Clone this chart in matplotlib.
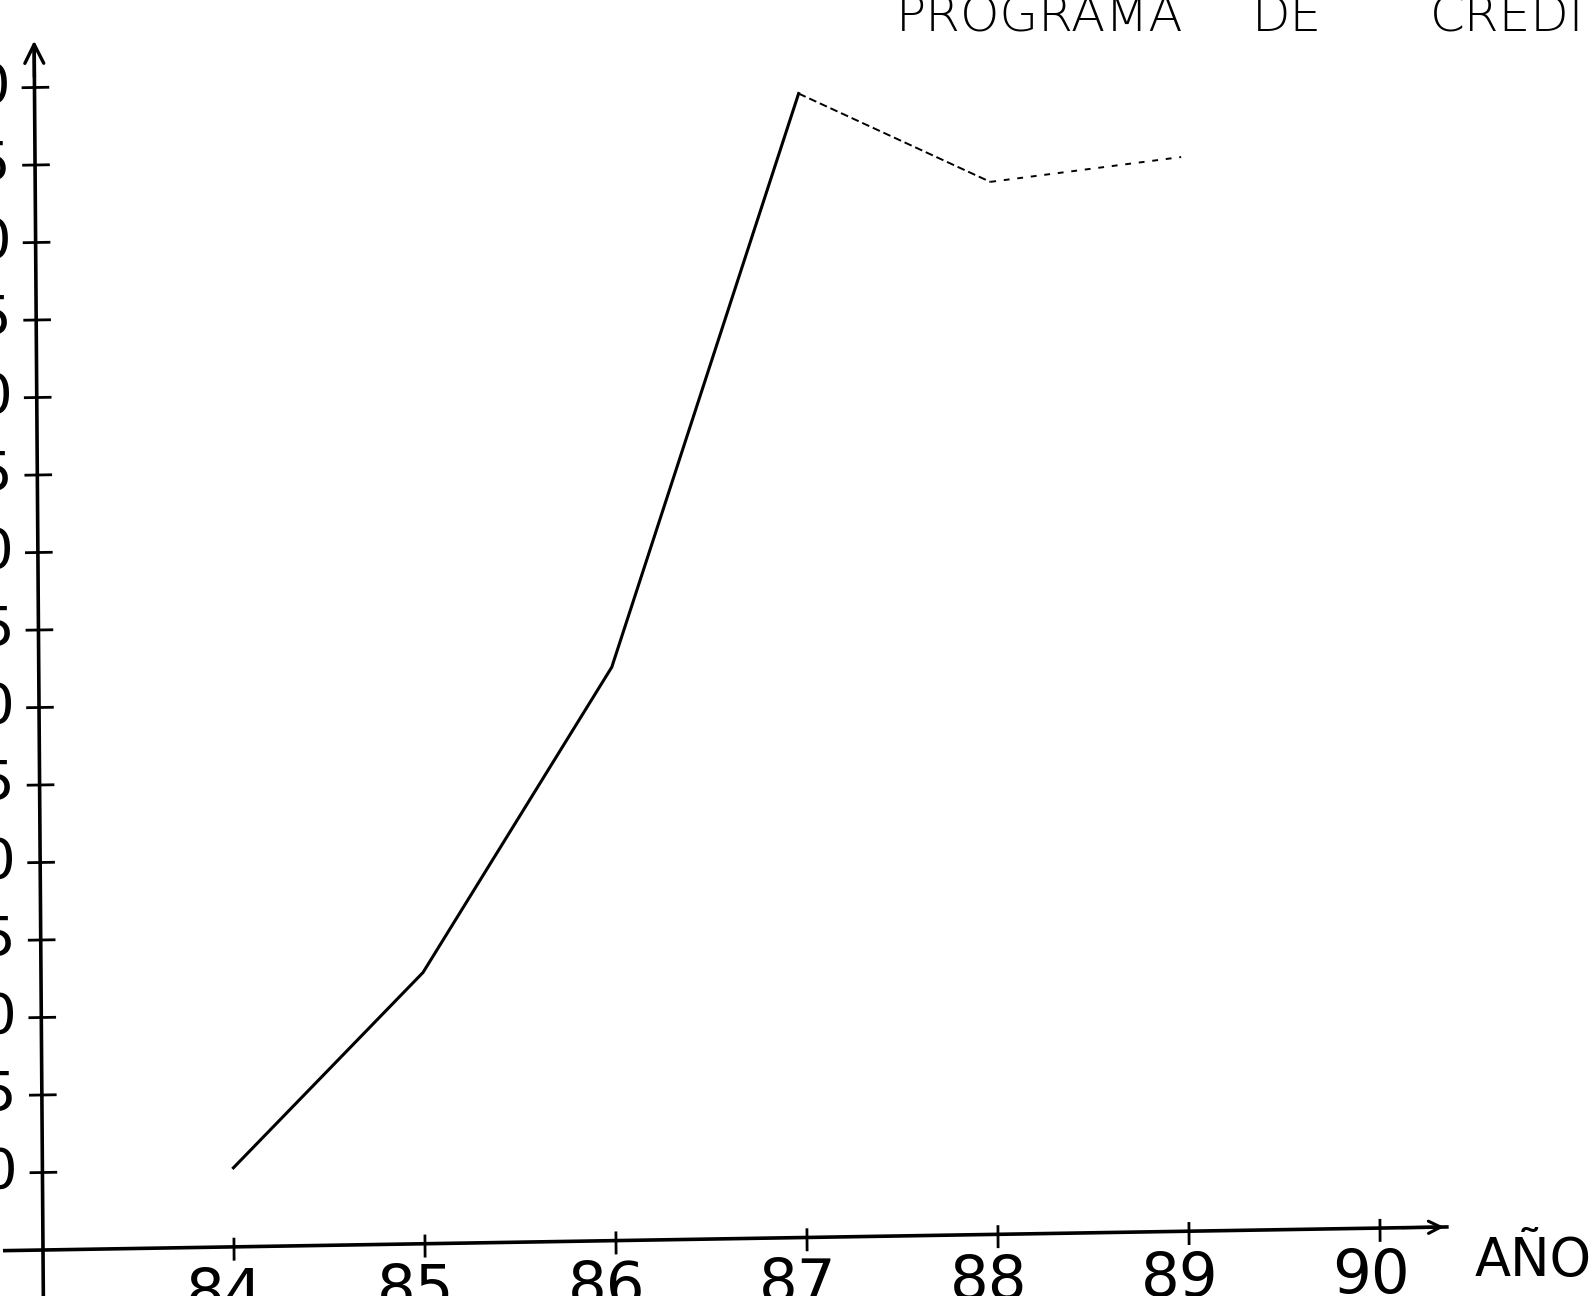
import matplotlib
matplotlib.use("Agg")
import matplotlib.pyplot as plt
from matplotlib.transforms import Affine2D

# datos (valores aproximados)
anios = [84, 85, 86, 87, 88, 89]
valores = [10.1, 22.5, 42.0, 78.8, 72.9, 74.3]
x_ticks = [84, 85, 86, 87, 88, 89, 90]
x_labels = ["84", "85", "86", "87", "88", "89", "90"]
y_ticks = list(range(10, 85, 5))
y_labels = [str(v) for v in y_ticks]

FUENTE = ["DejaVu Sans"]

W, H, DPI = 1596, 1296, 100
fig = plt.figure(figsize=(W / DPI, H / DPI), dpi=DPI)
ox, oy = 43, 46          # origen de los ejes en pixeles
px_x, px_y = 191, 15.5   # pixeles por anio / por unidad
x0, y0 = 83, 5

ax = fig.add_axes([ox / W, oy / H, 1 - ox / W, 1 - oy / H])
ax.set_xlim(x0, x0 + (W - ox) / px_x)
ax.set_ylim(y0, y0 + (H - oy) / px_y)
ax.axis("off")

# el dibujo original esta un poco torcido
skew = Affine2D().translate(-ox, -oy).skew_deg(-0.42, 0.94).translate(ox, oy)
tr = ax.transData + skew

kw = dict(color="black", transform=tr, clip_on=False)

# ejes
ax.plot([x0 - 0.2, x0 + 7.35], [y0, y0], lw=2.6, **kw)
ax.plot([x0, x0], [y0 - 3.0, y0 + 77.5], lw=2.6, **kw)
ax.annotate("", xy=(x0 + 7.35, y0), xytext=(x0 + 7.1, y0), xycoords=tr,
            arrowprops=dict(arrowstyle="->", lw=2.2, color="black",
                            mutation_scale=22))
ax.annotate("", xy=(x0, y0 + 78.2), xytext=(x0, y0 + 75.5), xycoords=tr,
            arrowprops=dict(arrowstyle="->", lw=2.4, color="black",
                            mutation_scale=34))

# marcas y etiquetas del eje x
for t, lab in zip(x_ticks, x_labels):
    ax.plot([t, t], [y0 - 0.8, y0 + 0.5], lw=2.0, **kw)
    ax.text(t - 0.05, y0 - 1.2, lab, fontsize=44, ha="center", va="top",
            family=FUENTE, **kw)

# marcas y etiquetas del eje y (recortadas por el borde izquierdo)
for v, lab in zip(y_ticks, y_labels):
    ax.plot([x0 - 0.06, x0 + 0.07], [v, v], lw=2.0, **kw)
    ax.text(x0 - 0.125, v, lab, fontsize=40, ha="right", va="center",
            family=FUENTE, **kw)

ax.text(x0 + 7.8, y0 - 2.3, "AÑO", fontsize=38, ha="center", va="center",
        family=FUENTE, **kw)

# curva
ax.plot(anios[:4], valores[:4], lw=2.2, solid_joinstyle="miter", **kw)
ax.plot(anios[3:5], valores[3:5], lw=1.4, ls=(0, (4, 2)), **kw)
ax.plot(anios[4:], valores[4:], lw=1.4, ls=(0, (3, 4)), **kw)

# titulo cortado por el borde superior
for palabra, xp in [("PROGRAMA", 896), ("DE", 1252), ("CREDITO", 1430)]:
    fig.text(xp / W, 1 - 31 / H, palabra, fontsize=36, ha="left",
             va="baseline", family=FUENTE, fontweight="light")

fig.savefig("out.png", dpi=DPI, facecolor="white")
